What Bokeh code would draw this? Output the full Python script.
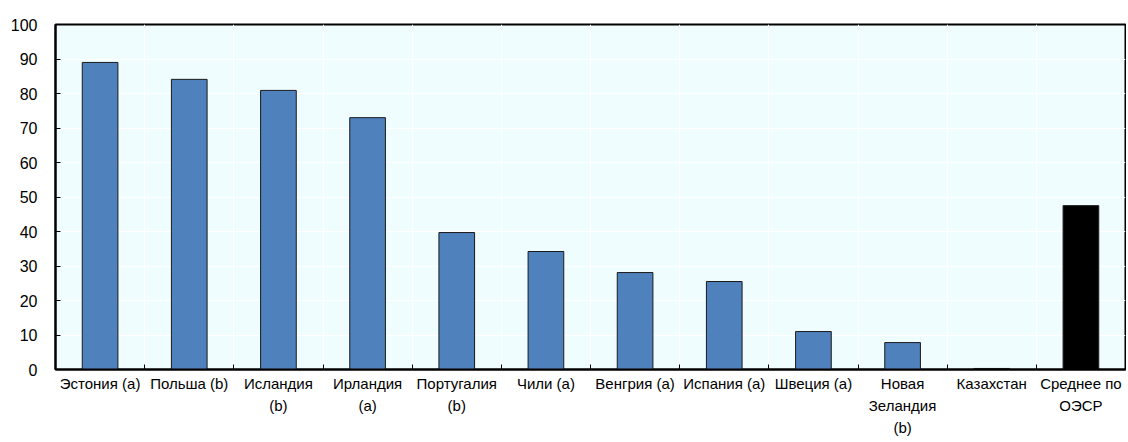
from bokeh.plotting import figure
from bokeh.models import ColumnDataSource, FixedTicker, Range1d
from bokeh.embed import file_html
from bokeh.resources import INLINE

categories = ["Эстония (a)", "Польша (b)", "Исландия\n(b)", "Ирландия\n(a)",
              "Португалия\n(b)", "Чили (a)", "Венгрия (a)", "Испания (a)",
              "Швеция (a)", "Новая\nЗеландия\n(b)", "Казахстан", "Среднее по\nОЭСР"]
values = [89.0, 84.1, 80.9, 73.0, 39.7, 34.2, 28.1, 25.5, 11.0, 7.8, 0.3, 47.5]
colors = ["#4F81BD"] * 11 + ["#000000"]
y_ticks = [0, 10, 20, 30, 40, 50, 60, 70, 80, 90, 100]

n = len(categories)
centers = [i + 0.5 for i in range(n)]
bounds = list(range(n + 1))

src = ColumnDataSource(dict(x=centers, top=values, color=colors))

p = figure(width=1126, height=442, output_backend="svg", toolbar_location=None,
           x_range=Range1d(0, n), y_range=Range1d(0, 100),
           min_border_left=55, min_border_top=24, min_border_right=1, min_border_bottom=73)
p.background_fill_color = "#F0FDFF"
p.border_fill_color = "white"
p.outline_line_color = "black"
p.outline_line_width = 2

p.vbar(x="x", top="top", width=0.4, bottom=0, source=src, fill_color="color",
       line_color="#1a1a1a", line_width=1)

# x axis
p.xaxis.ticker = FixedTicker(ticks=centers, minor_ticks=bounds)
p.xaxis.major_label_overrides = {c: lab for c, lab in zip(centers, categories)}
p.xaxis.major_tick_in = 0
p.xaxis.major_tick_out = 0
p.xaxis.minor_tick_in = 5
p.xaxis.minor_tick_out = 0
p.xaxis.minor_tick_line_color = "black"
p.xaxis.axis_line_color = "black"
p.xaxis.axis_line_width = 2
p.xaxis.major_label_text_font = "Liberation Sans"
p.xaxis.major_label_text_font_size = "15px"
p.xaxis.major_label_text_line_height = 1.3
p.xaxis.major_label_text_color = "black"
p.xaxis.major_label_standoff = 5

# y axis
p.yaxis.ticker = FixedTicker(ticks=y_ticks)
p.yaxis.major_tick_in = 5
p.yaxis.major_tick_out = 0
p.yaxis.minor_tick_line_color = None
p.yaxis.axis_line_color = "black"
p.yaxis.axis_line_width = 2
p.yaxis.major_label_text_font = "Liberation Sans"
p.yaxis.major_label_text_font_size = "16px"
p.yaxis.major_label_text_color = "black"
p.yaxis.major_label_standoff = 18

# grids
p.xgrid.grid_line_color = None
p.xgrid.minor_grid_line_color = "white"
p.xgrid.minor_grid_line_width = 1
p.ygrid.grid_line_color = "white"
p.ygrid.grid_line_width = 1

open("out.html", "w").write(file_html(p, INLINE))
